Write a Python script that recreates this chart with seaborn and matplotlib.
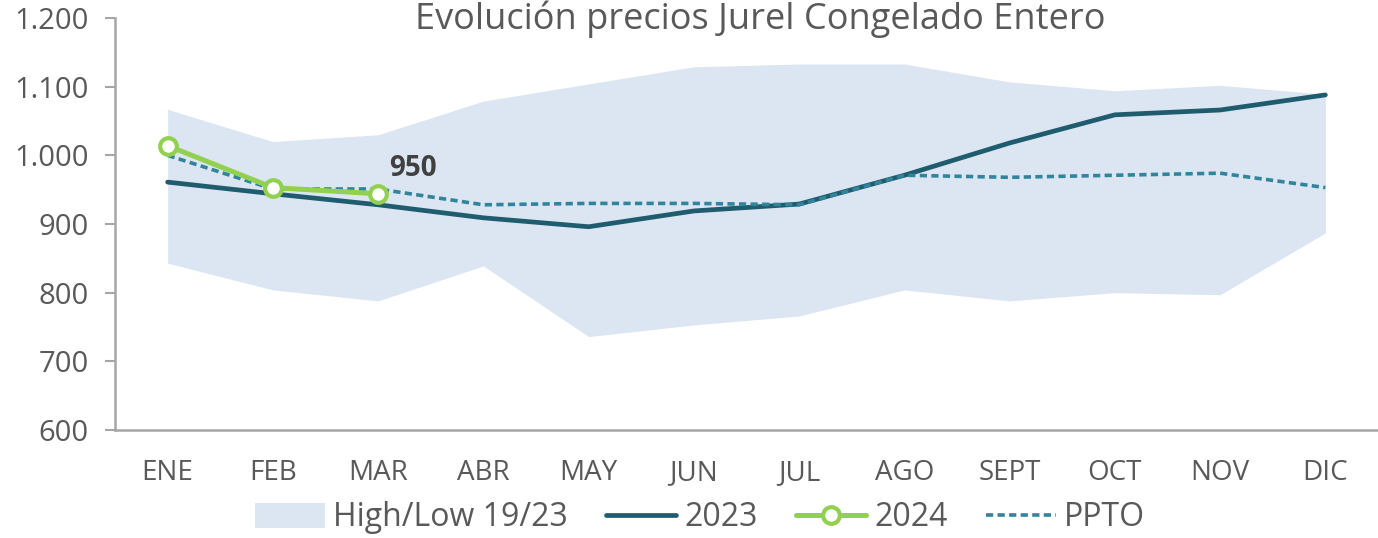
import numpy as np
import pandas as pd
import matplotlib.pyplot as plt
import matplotlib.ticker as mticker
from matplotlib.lines import Line2D
from matplotlib.patches import Patch
import seaborn as sns

# Data
months = ["ENE", "FEB", "MAR", "ABR", "MAY", "JUN", "JUL", "AGO", "SEPT", "OCT", "NOV", "DIC"]
high_19_23 = [1067, 1020, 1030, 1079, 1104, 1129, 1133, 1133, 1107, 1094, 1102, 1089]
low_19_23 = [843, 804, 788, 839, 736, 753, 766, 804, 788, 800, 797, 887]
prices_2023 = [961, 944, 928, 909, 896, 919, 929, 971, 1018, 1059, 1066, 1088]
prices_2024 = [1014, 953, 944]
ppto = [1000, 951, 951, 928, 930, 930, 928, 971, 968, 971, 974, 953]
label_950 = 950

C_BAND = "#DCE6F2"
C_2023 = "#1F5C6E"
C_2024 = "#92D050"
C_PPTO = "#31849B"
C_TEXT = "#595959"
C_AXIS = "#A6A6A6"
DASH = (0, (2.0, 1.2))

sns.set_theme(style="white")
plt.rcParams["font.family"] = ["Open Sans", "DejaVu Sans"]

df = pd.DataFrame({
    "pos": np.arange(len(months)),
    "month": months,
    "high": high_19_23,
    "low": low_19_23,
    "y2023": prices_2023,
    "ppto": ppto,
})
df24 = df.iloc[:len(prices_2024)].copy()
df24["y2024"] = prices_2024

fig = plt.figure(figsize=(13.78, 5.38), dpi=100)
ax = fig.add_axes([115 / 1378, 1 - 430 / 538, 1 - 115 / 1378, (430 - 18) / 538])

# high/low band for 2019-2023
ax.fill_between(df["pos"], df["low"], df["high"], color=C_BAND, linewidth=0, zorder=1)
sns.lineplot(data=df, x="pos", y="y2023", ax=ax, color=C_2023, linewidth=3.4, zorder=3)
sns.lineplot(data=df, x="pos", y="ppto", ax=ax, color=C_PPTO, linewidth=2.6,
             linestyle=DASH, zorder=4)
sns.lineplot(data=df24, x="pos", y="y2024", ax=ax, color=C_2024, linewidth=3.6,
             marker="o", markersize=12, markerfacecolor="white",
             markeredgecolor=C_2024, markeredgewidth=3, zorder=5)

ax.text(2.1, label_950 + 10, f"{label_950}", fontsize=20, fontweight="bold",
        color="#404040", ha="left", va="bottom")

ax.set_xlim(-0.5, 11.4)
ax.set_ylim(600, 1200)
ax.set_xlabel("")
ax.set_ylabel("")
ax.set_xticks(df["pos"])
ax.set_xticklabels(months)
ax.set_xticks(np.arange(-0.5, 12, 1), minor=True)
ax.yaxis.set_major_locator(mticker.MultipleLocator(100))
ax.yaxis.set_major_formatter(mticker.FuncFormatter(lambda v, p: f"{int(v):,}".replace(",", ".")))
ax.tick_params(axis="x", which="major", length=0, pad=21, labelsize=20, labelcolor=C_TEXT)
ax.tick_params(axis="x", which="minor", length=8, width=1.5, color=C_AXIS, direction="out")
ax.tick_params(axis="y", which="major", length=7, width=1.5, color=C_AXIS, direction="out",
               pad=12, labelsize=21, labelcolor=C_TEXT, left=True)

sns.despine(ax=ax, top=True, right=True)
for side in ("left", "bottom"):
    ax.spines[side].set_color(C_AXIS)
    ax.spines[side].set_linewidth(1.8)

fig.text(760 / 1378, 1 - 29 / 538, "Evolución precios Jurel Congelado Entero",
         ha="center", va="baseline", fontsize=26, color=C_TEXT)

handles = [
    Patch(facecolor=C_BAND, edgecolor="none"),
    Line2D([], [], color=C_2023, linewidth=3.4),
    Line2D([], [], color=C_2024, linewidth=3.6, marker="o", markersize=12,
           markerfacecolor="white", markeredgecolor=C_2024, markeredgewidth=3),
    Line2D([], [], color=C_PPTO, linewidth=2.6, linestyle=DASH),
]
labels = ["High/Low 19/23", "2023", "2024", "PPTO"]
fig.legend(handles, labels, loc="center", bbox_to_anchor=(700 / 1378, 1 - 518 / 538),
           ncol=4, frameon=False, fontsize=23, handlelength=2.2, handleheight=0.8,
           handletextpad=0.25, columnspacing=1.2, labelcolor=C_TEXT)

fig.savefig("out.png", dpi=100)
